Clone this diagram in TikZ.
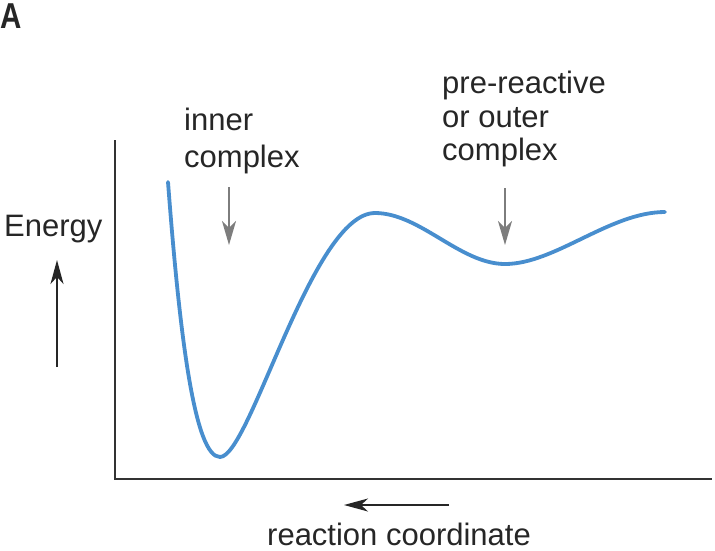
\documentclass[tikz,border=0pt]{standalone}
\usepackage{fontspec}
\setmainfont{Liberation Sans}
\usetikzlibrary{arrows.meta}
\definecolor{curveblue}{RGB}{72,142,206}
\definecolor{markgray}{RGB}{125,125,125}

\begin{document}
\begin{tikzpicture}[x=1pt, y=-1pt,
    lbl/.style={font=\fontsize{31}{35}\selectfont, text=black!85, inner sep=0pt, anchor=base west},
    axisline/.style={line width=2pt, draw=black!80},
    dirarrow/.style={line width=1.8pt, draw=black!85, -{Stealth[length=24pt, width=13pt, inset=7pt]}},
    markarrow/.style={line width=2pt, draw=markgray, -{Stealth[length=24pt, width=14pt, inset=7pt]}}]
        \useasboundingbox (0,0) rectangle (715,550);

        % Axes
        \coordinate (Ytop) at (115,140);
        \coordinate (O) at (115,479);
        \coordinate (Xend) at (712,479);
        \draw[axisline] (Ytop) -- (O) -- (Xend);

        % Energy profile
        \coordinate (C1) at (168,182);
        \coordinate (C3) at (220,457); % inner minimum
        \coordinate (C6) at (375,213); % barrier
        \coordinate (C8) at (505,264); % outer minimum
        \coordinate (C10) at (665,212);
        \draw[curveblue, line width=3.8pt, line cap=round]
            (C1) .. controls (180,340) and (195,457) .. (C3)
                 .. controls (250,457) and (312,213) .. (C6)
                 .. controls (420,213) and (460,264) .. (C8)
                 .. controls (555,264) and (610,212) .. (C10);

        % Labels
        \node[lbl, font=\fontsize{36}{36}\selectfont\bfseries, xscale=0.82] (panel) at (0,28) {A};
        \node[lbl] (energy) at (4,236) {Energy};
        \node[lbl] (inner1) at (184,130) {inner};
        \node[lbl] (inner2) at (184,167) {complex};
        \node[lbl] (outer1) at (442,93) {pre-reactive};
        \node[lbl] (outer2) at (442,127) {or outer};
        \node[lbl] (outer3) at (442,160) {complex};
        \node[lbl] (rxn) at (267,545) {reaction coordinate};

        % Arrows
        \coordinate (Ebot) at (57,367);
        \coordinate (Etop) at (57,260);
        \draw[dirarrow] (Ebot) -- (Etop);
        \coordinate (Rstart) at (449,505);
        \coordinate (Rend) at (344,505);
        \draw[dirarrow] (Rstart) -- (Rend);
        \coordinate (Itop) at (229,187);
        \coordinate (Ibot) at (229,245);
        \draw[markarrow] (Itop) -- (Ibot);
        \coordinate (Otop) at (505,188);
        \coordinate (Obot) at (505,245);
        \draw[markarrow] (Otop) -- (Obot);
\end{tikzpicture}
\end{document}
